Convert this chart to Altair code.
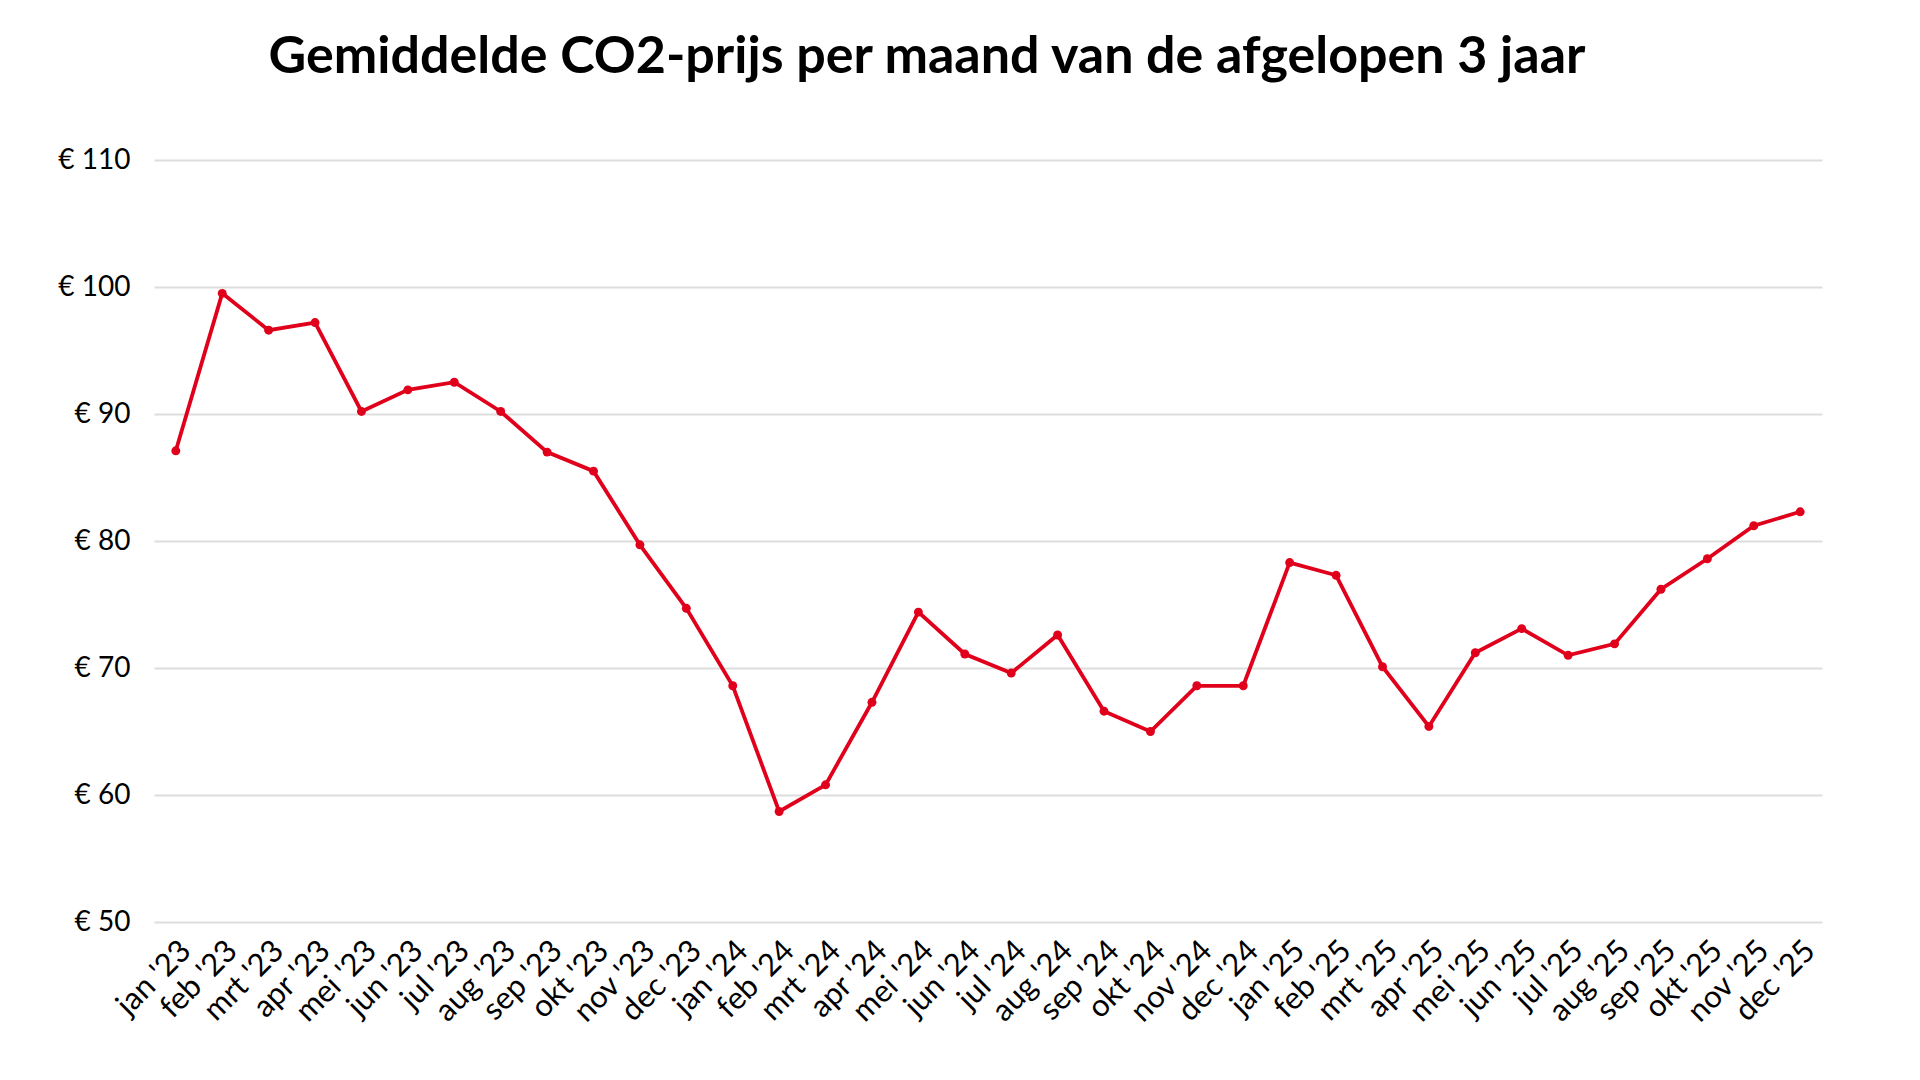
import altair as alt
import pandas as pd

months = ["jan '23", "feb '23", "mrt '23", "apr '23", "mei '23", "jun '23",
          "jul '23", "aug '23", "sep '23", "okt '23", "nov '23", "dec '23",
          "jan '24", "feb '24", "mrt '24", "apr '24", "mei '24", "jun '24",
          "jul '24", "aug '24", "sep '24", "okt '24", "nov '24", "dec '24",
          "jan '25", "feb '25", "mrt '25", "apr '25", "mei '25", "jun '25",
          "jul '25", "aug '25", "sep '25", "okt '25", "nov '25", "dec '25"]
prices = [87.1, 99.5, 96.6, 97.2, 90.2, 91.9,
          92.5, 90.2, 87.0, 85.5, 79.7, 74.7,
          68.6, 58.7, 60.8, 67.3, 74.4, 71.1,
          69.6, 72.6, 66.6, 65.0, 68.6, 68.6,
          78.3, 77.3, 70.1, 65.4, 71.2, 73.1,
          71.0, 71.9, 76.2, 78.6, 81.2, 82.3]
y_ticks = [50, 60, 70, 80, 90, 100, 110]

df = pd.DataFrame({"maand": months, "prijs": prices})
RED = "#E0001B"

chart = alt.Chart(df).mark_line(
    color=RED, strokeWidth=3.8,
    point=alt.OverlayMarkDef(filled=True, size=80, color=RED, opacity=1)
).encode(
    x=alt.X("maand:N", sort=months,
            scale=alt.Scale(type="point", padding=0.47),
            axis=alt.Axis(title=None, labelAngle=-45, labelAlign="right",
                          labelBaseline="middle", labelPadding=24,
                          labelOffset=10,
                          labelFontSize=31, labelColor="#000000",
                          labelFont="Lato", domain=False, ticks=False,
                          grid=False, labelOverlap=False)),
    y=alt.Y("prijs:Q",
            scale=alt.Scale(domain=[50, 110], nice=False, zero=False),
            axis=alt.Axis(title=None, values=y_ticks,
                          labelExpr="'€ ' + datum.value",
                          grid=True, gridColor="#dddddd", gridWidth=2,
                          domain=False, ticks=False, labelPadding=24,
                          labelFontSize=28, labelColor="#000000",
                          labelFont="Lato")),
).properties(
    width=1668, height=762,
    background="#ffffff",
    autosize=alt.AutoSizeParams(type="none"),
    padding={"left": 146, "top": 152, "right": 90, "bottom": 150},
    title=alt.TitleParams(
        text="Gemiddelde CO2-prijs per maand van de afgelopen 3 jaar",
        font="Lato", fontSize=52, fontWeight="bold", color="#000000",
        anchor="middle", dx=-61, offset=62),
).configure_view(stroke=None)

chart.save("out.html", embed_options={"renderer": "svg", "actions": False})
